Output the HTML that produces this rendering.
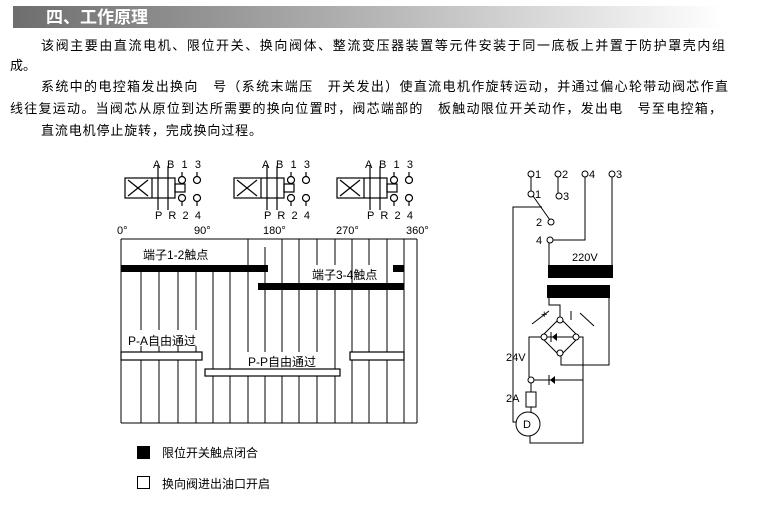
<!DOCTYPE html>
<html><head><meta charset="utf-8"><style>
html,body{margin:0;padding:0;background:#fff;}
svg{display:block;}
text{font-family:"Liberation Sans","Noto Sans CJK SC",sans-serif;fill:#000;}
</style></head><body>
<svg width="758" height="528" viewBox="0 0 758 528" xmlns="http://www.w3.org/2000/svg">
<defs><linearGradient id="g" x1="0" x2="1"><stop offset="0" stop-color="#6e6e6e"/><stop offset="0.5" stop-color="#b4b4b4"/><stop offset="1" stop-color="#ffffff"/></linearGradient></defs>
<rect x="13" y="6" width="710" height="22" fill="url(#g)"/>
<text x="46" y="23" font-size="17" font-weight="bold" style="fill:#fff">四、工作原理</text>
<g font-size="13">
<text x="41" y="50" textLength="684" lengthAdjust="spacing">该阀主要由直流电机、限位开关、换向阀体、整流变压器装置等元件安装于同一底板上并置于防护罩壳内组</text>
<text x="10" y="70">成。</text>
<text x="41" y="91" textLength="687" lengthAdjust="spacing">系统中的电控箱发出换向　号（系统末端压　开关发出）使直流电机作旋转运动，并通过偏心轮带动阀芯作直</text>
<text x="10" y="113" textLength="712" lengthAdjust="spacing">线往复运动。当阀芯从原位到达所需要的换向位置时，阀芯端部的　板触动限位开关动作，发出电　号至电控箱，</text>
<text x="41" y="135" textLength="221" lengthAdjust="spacing">直流电机停止旋转，完成换向过程。</text>
</g>
<g stroke="#000" stroke-width="1.2" fill="none">
<g id="v">
<rect x="125" y="178" width="50" height="20"/><line x1="152" y1="178" x2="152" y2="198"/>
<line x1="128" y1="180" x2="148" y2="196"/><line x1="148" y1="180" x2="128" y2="196"/>
<line x1="158" y1="166" x2="158" y2="210"/><line x1="168" y1="166" x2="168" y2="210"/>
<rect x="175" y="184" width="10" height="8"/>
<circle cx="182" cy="180" r="3.5"/><circle cx="197" cy="180" r="3.5"/>
<circle cx="182" cy="198" r="3.5"/><circle cx="197" cy="198" r="3.5"/>
<line x1="182" y1="172" x2="182" y2="176"/><line x1="197" y1="172" x2="197" y2="176"/>
<line x1="182" y1="202" x2="182" y2="206"/><line x1="197" y1="202" x2="197" y2="206"/>
</g>
<use href="#v" x="109"/>
<use href="#v" x="212"/>
<g stroke-width="1">
<line x1="121" y1="239" x2="121" y2="423"/>
<line x1="141" y1="272" x2="141" y2="330"/><line x1="141" y1="346" x2="141" y2="423"/>
<line x1="159" y1="272" x2="159" y2="330"/><line x1="159" y1="346" x2="159" y2="423"/>
<line x1="178" y1="272" x2="178" y2="330"/><line x1="178" y1="346" x2="178" y2="423"/>
<line x1="196" y1="272" x2="196" y2="330"/><line x1="196" y1="346" x2="196" y2="423"/>
<line x1="213" y1="272" x2="213" y2="423"/>
<line x1="230" y1="272" x2="230" y2="423"/>
<line x1="248" y1="239" x2="248" y2="352"/><line x1="248" y1="376" x2="248" y2="423"/>
<line x1="265" y1="247" x2="265" y2="352"/><line x1="265" y1="376" x2="265" y2="423"/>
<line x1="282" y1="239" x2="282" y2="352"/><line x1="282" y1="376" x2="282" y2="423"/>
<line x1="299" y1="239" x2="299" y2="352"/><line x1="299" y1="376" x2="299" y2="423"/>
<line x1="317" y1="239" x2="317" y2="265"/><line x1="317" y1="283" x2="317" y2="352"/><line x1="317" y1="376" x2="317" y2="423"/>
<line x1="335" y1="239" x2="335" y2="265"/><line x1="335" y1="283" x2="335" y2="423"/>
<line x1="352" y1="239" x2="352" y2="423"/>
<line x1="369" y1="239" x2="369" y2="265"/><line x1="369" y1="283" x2="369" y2="423"/>
<line x1="387" y1="239" x2="387" y2="423"/>
<line x1="404" y1="239" x2="404" y2="423"/>
<line x1="417" y1="239" x2="417" y2="423"/>
<line x1="121" y1="239" x2="417" y2="239"/>
<line x1="121" y1="423" x2="417" y2="423"/>
</g>
<rect x="121" y="352" width="81" height="8" fill="#fff"/>
<rect x="205" y="369" width="135" height="7" fill="#fff"/>
<rect x="350" y="352" width="54" height="8" fill="#fff"/>
</g>
<rect x="121" y="265" width="147" height="7" fill="#000"/>
<rect x="258" y="283" width="146" height="7" fill="#000"/>
<rect x="393" y="265" width="11" height="7" fill="#000"/>
<g font-size="11">
<text x="153" y="168" textLength="48">A B 1 3</text><text x="262" y="168" textLength="48">A B 1 3</text><text x="365" y="168" textLength="48">A B 1 3</text>
<text x="155" y="219" textLength="46">P R 2 4</text><text x="264" y="219" textLength="46">P R 2 4</text><text x="367" y="219" textLength="46">P R 2 4</text>
<text x="117" y="234">0°</text><text x="194" y="234">90°</text><text x="263" y="234">180°</text><text x="336" y="234">270°</text><text x="406" y="234">360°</text>
</g>
<g font-size="12">
<text x="143" y="259">端子1-2触点</text>
<text x="312" y="279">端子3-4触点</text>
<text x="128" y="345">P-A自由通过</text>
<text x="248" y="366">P-P自由通过</text>
</g>
<g stroke="#000" stroke-width="1" fill="none">
<circle cx="531" cy="174" r="3"/><circle cx="558" cy="174" r="3"/><circle cx="585" cy="174" r="3"/><circle cx="612" cy="174" r="3"/>
<circle cx="531" cy="194" r="3"/><circle cx="559" cy="196" r="3"/>
<line x1="531" y1="177" x2="531" y2="191"/><line x1="558" y1="177" x2="558" y2="193"/>
<line x1="533" y1="196" x2="550" y2="220"/>
<circle cx="551" cy="222" r="3"/><circle cx="550" cy="240" r="3"/>
<polyline points="553,240 585,240 585,177"/>
<polyline points="612,177 612,265"/>
<line x1="549" y1="243" x2="549" y2="265"/>
<polyline points="542,207 513,207 513,422 516,422"/>
<polyline points="549,298 549,305 560,305 560,317"/>
<polyline points="609,298 609,365 561,365 561,356"/>
<polygon points="560,318 579,337 560,356 541,337"/>
<circle cx="560" cy="320" r="3" fill="#fff"/><circle cx="560" cy="353" r="3" fill="#fff"/>
<circle cx="544" cy="337" r="3" fill="#fff"/><circle cx="576" cy="337" r="3" fill="#fff"/>
<line x1="547" y1="337" x2="573" y2="337"/>
<polyline points="541,337 529,337 529,377"/>
<polyline points="579,337 583,337 583,443 530,443 530,436"/>
<circle cx="531" cy="380" r="3"/>
<line x1="534" y1="380" x2="583" y2="380"/>
<line x1="531" y1="383" x2="531" y2="392"/>
<rect x="526" y="392" width="10" height="15"/>
<line x1="531" y1="407" x2="531" y2="412"/>
<circle cx="528" cy="424" r="12"/>
<line x1="532" y1="324" x2="549" y2="311"/><line x1="594" y1="326" x2="580" y2="313"/>
<line x1="571" y1="311" x2="571" y2="320"/>
</g>
<polygon points="557,333 557,341 552,337" fill="#000"/><line x1="551" y1="332" x2="551" y2="342" stroke="#000"/>
<polygon points="555,376 555,384 550,380" fill="#000"/><line x1="549" y1="375" x2="549" y2="385" stroke="#000"/>
<rect x="548" y="265" width="65" height="13" fill="#000"/>
<rect x="547" y="285" width="63" height="13" fill="#000"/>
<g font-size="11">
<text x="535" y="178">1</text><text x="562" y="178">2</text><text x="589" y="178">4</text><text x="616" y="178">3</text>
<text x="535" y="198">1</text><text x="563" y="200">3</text>
<text x="536" y="226">2</text><text x="536" y="244">4</text>
<text x="572" y="261">220V</text>
<text x="541" y="318">+</text>
<text x="506" y="361">24V</text><text x="506" y="402">2A</text>
<text x="523" y="428">D</text>
</g>
<rect x="137" y="446" width="13" height="13" fill="#000"/>
<rect x="137.5" y="476.5" width="12" height="12" fill="#fff" stroke="#000"/>
<text x="162" y="457" font-size="12">限位开关触点闭合</text>
<text x="162" y="488" font-size="12">换向阀进出油口开启</text>
</svg>
</body></html>
